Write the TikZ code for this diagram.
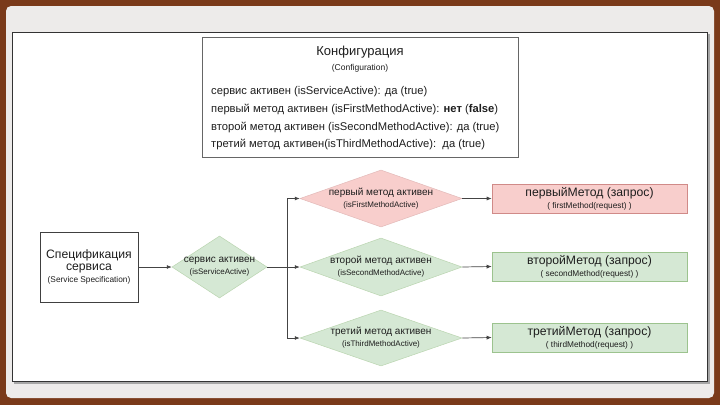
\documentclass[tikz,border=0pt]{standalone}
\usepackage{fontspec}
\setmainfont{Liberation Sans}
\usetikzlibrary{shapes.geometric,arrows.meta}
\definecolor{frameBrown}{HTML}{7A3A1A}
\definecolor{panelGray}{HTML}{EDEBEA}
\definecolor{redFill}{HTML}{F8CECC}
\definecolor{redLine}{HTML}{D08A88}
\definecolor{greenFill}{HTML}{D5E8D4}
\definecolor{greenLine}{HTML}{9CC38E}
\definecolor{txt}{HTML}{1E1E1E}
\definecolor{edge}{HTML}{444444}
\tikzset{
  dia/.style={diamond, inner sep=-4pt, align=center, text=txt},
  diagreen/.style={dia, fill=greenFill, draw=greenLine!70, line width=0.5pt},
  diared/.style={dia, fill=redFill, draw=redLine!60, line width=0.5pt},
  methbox/.style={rectangle, minimum width=195pt, minimum height=29pt, inner sep=0pt, align=center, text=txt, line width=0.6pt},
  conn/.style={draw=edge, line width=0.7pt, -{Latex[length=5pt,width=4pt]}},
  plain/.style={draw=edge, line width=0.7pt},
}
\newcommand{\dtext}[2]{{\fontsize{10}{11.5}\selectfont #1}\\{\fontsize{8}{9.5}\selectfont #2}}
\newcommand{\btext}[2]{{\fontsize{12.2}{14}\selectfont #1}\\{\fontsize{8.3}{9.5}\selectfont #2}}
\begin{document}
\begin{tikzpicture}[x=1pt,y=-1pt]
\useasboundingbox (0,0) rectangle (720,405);
\fill[frameBrown] (0,0) rectangle (720,405);
\fill[panelGray, rounded corners=5pt] (6,6) rectangle (714,398);
\fill[black!35] (14,34) rectangle (709.5,383.5);
\filldraw[fill=white, draw=black!80, line width=0.8pt] (12,32) rectangle (707,381);

% configuration box
\node[draw=black!60, fill=white, line width=0.6pt, minimum width=316pt, minimum height=120pt, inner sep=0pt] (cfg) at (360,97.5) {};
\node[font=\fontsize{13}{15}\selectfont, text=txt] (cfgt) at (360,52) {Конфигурация};
\node[font=\fontsize{8.5}{10}\selectfont, text=txt] (cfgs) at (360,68.5) {(Configuration)};
\node[anchor=north west, align=left, inner sep=0pt, text=txt, font=\fontsize{11.2}{17.6}\selectfont] (cfgl) at (211,86.5) {%
сервис активен (isServiceActive): да (true)\\
первый метод активен (isFirstMethodActive): \textbf{нет} (\textbf{false})\\
второй метод активен (isSecondMethodActive): да (true)\\
третий метод активен(isThirdMethodActive):\ \ да (true)};

% specification
\node[draw=black!75, fill=white, line width=0.6pt, minimum width=98pt, minimum height=70pt, inner sep=0pt, align=center, text=txt] (spec) at (89,267)
 {{\fontsize{12.2}{13.5}\selectfont Спецификация}\\{\fontsize{12.2}{13.5}\selectfont сервиса}\\{\fontsize{8.3}{9}\selectfont (Service Specification)}};

% diamonds
\node[diagreen, aspect=1.53, minimum width=95pt, minimum height=62pt] (d0) at (219.5,267) {\dtext{сервис активен}{(isServiceActive)}};
\node[diared, aspect=2.84, minimum width=162pt, minimum height=57pt] (d1) at (381,198.5) {\dtext{первый метод активен}{(isFirstMethodActive)}};
\node[diagreen, aspect=2.84, minimum width=162pt, minimum height=58pt] (d2) at (381,267) {\dtext{второй метод активен}{(isSecondMethodActive)}};
\node[diagreen, aspect=2.84, minimum width=162pt, minimum height=56pt] (d3) at (381,338) {\dtext{третий метод активен}{(isThirdMethodActive)}};

% method boxes
\node[methbox, fill=redFill, draw=redLine] (m1) at (589.5,198.5) {\btext{первыйМетод (запрос)}{( firstMethod(request) )}};
\node[methbox, fill=greenFill, draw=greenLine] (m2) at (589.5,266.5) {\btext{второйМетод (запрос)}{( secondMethod(request) )}};
\node[methbox, fill=greenFill, draw=greenLine] (m3) at (589.5,337.5) {\btext{третийМетод (запрос)}{( thirdMethod(request) )}};

% connectors
\coordinate (j) at (287,267);
\draw[conn] (spec.east) -- (d0.west);
\draw[plain] (d0.east) -- (j);
\draw[conn] (j) |- (d1.west);
\draw[conn] (j) -- (d2.west);
\draw[conn] (j) |- (d3.west);
\draw[conn] (d1.east) -- (m1.west);
\draw[conn] (d2.east) -- (m2.west);
\draw[conn] (d3.east) -- (m3.west);
\end{tikzpicture}
\end{document}
